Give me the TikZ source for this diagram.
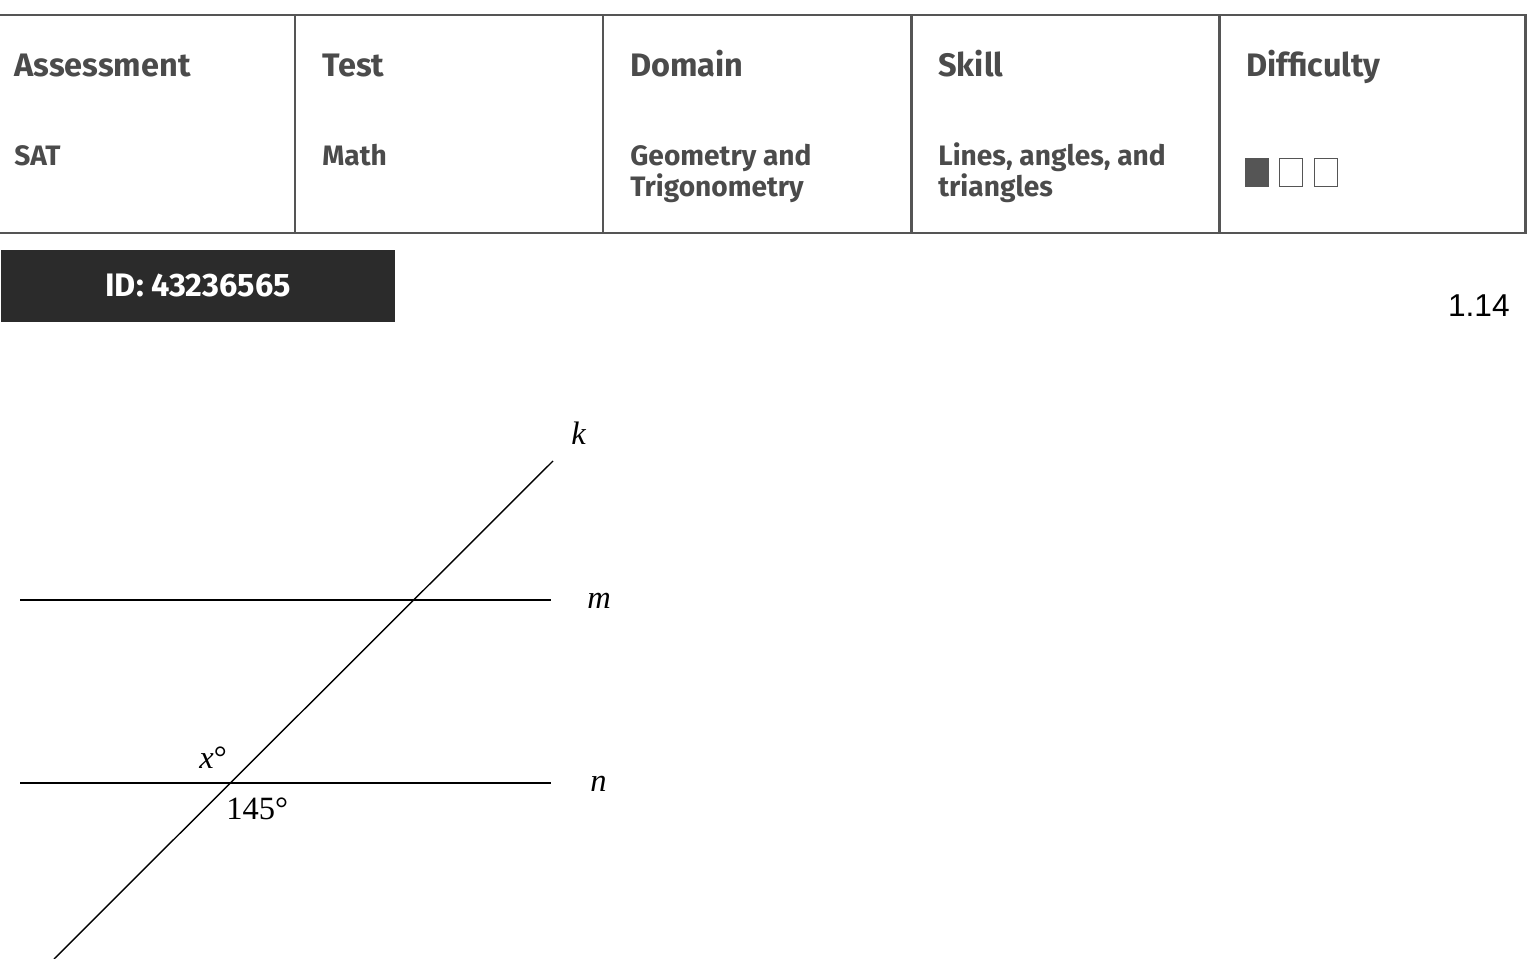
\documentclass[tikz,border=0pt]{standalone}
\usepackage{fontspec}
\setmainfont{Fira Sans}
\newfontfamily\timesfont{Liberation Serif}
\newfontfamily\arialfont{Liberation Sans}
\usetikzlibrary{positioning}
\definecolor{rulegray}{HTML}{555555}
\definecolor{inkgray}{HTML}{4B4B4B}
\definecolor{idfill}{HTML}{2B2B2B}

\begin{document}
\begin{tikzpicture}[x=0.02cm, y=-0.02cm]
        \tikzstyle{head} = [anchor=base west, inner sep=0pt, text=inkgray, font=\fontsize{18.5}{22}\selectfont\bfseries]
        \tikzstyle{cell} = [anchor=base west, inner sep=0pt, text=inkgray, align=left, font=\fontsize{16}{17.8}\selectfont\bfseries]
        \tikzstyle{grid} = [rulegray, line width=1.7pt]
        \tikzstyle{level} = [rulegray, line width=0.8pt]
        \tikzstyle{idbox} = [fill=idfill, text=white, minimum width=7.88cm, minimum height=1.44cm, inner sep=0pt, font=\fontsize{18.5}{22}\selectfont\bfseries]
        \tikzstyle{geo} = [black, line width=0.8pt]
        \tikzstyle{lab} = [anchor=base west, inner sep=0pt, font=\timesfont\fontsize{18.5}{20}\selectfont]
        \useasboundingbox (0,0) rectangle (1529,959);
        % table
        \coordinate (tl) at (0,15);
        \coordinate (tr) at (1525,15);
        \coordinate (bl) at (0,233);
        \coordinate (br) at (1525,233);
		\draw[grid] (tl) -- (tr) -- (br) -- (bl);
		\foreach \c in {295,603,911,1219}
		  \draw[grid] (\c,15) -- (\c,233);
		\node [head] (h1) at (14,76.5) {Assessment};
		\node [head] (h2) at (322,76.5) {Test};
		\node [head] (h3) at (630,76.5) {Domain};
		\node [head] (h4) at (938,76.5) {Skill};
		\node [head] (h5) at (1246,76.5) {Difficulty};
		\node [cell] (c1) at (14,165.5) {SAT};
		\node [cell] (c2) at (322,165.5) {Math};
		\node [cell] (c3) at (630,197) {Geometry and\\Trigonometry};
		\node [cell] (c4) at (938,197) {Lines, angles, and\\triangles};
		\fill[rulegray] (1245,158) rectangle (1269,187);
		\draw[level] (1279.5,158.5) rectangle (1302.5,186.5);
		\draw[level] (1314.5,158.5) rectangle (1337.5,186.5);
		\node [idbox] (id) at (198,286) {ID: 43236565};
		\node [anchor=base east, inner sep=0pt, font=\arialfont\fontsize{18}{20}\selectfont] (num) at (1510,317) {1.14};
        % figure
		\coordinate (kT) at (553,461);
		\coordinate (kB) at (54,959);
		\coordinate (mL) at (20,600);
		\coordinate (mR) at (551,600);
		\coordinate (nL) at (20,783);
		\coordinate (nR) at (551,783);
		\draw[geo] (mL) -- (mR);
		\draw[geo] (nL) -- (nR);
		\draw[geo] (kB) -- (kT);
		\node [lab] (k) at (571,445) {\itshape k};
		\node [lab] (m) at (587,608) {\itshape m};
		\node [lab] (n) at (590,791) {\itshape n};
		\node [lab] (x) at (199,768) {\itshape x\upshape°};
		\node [lab] (a) at (226,819) {145°};
    \end{tikzpicture}
\end{document}
